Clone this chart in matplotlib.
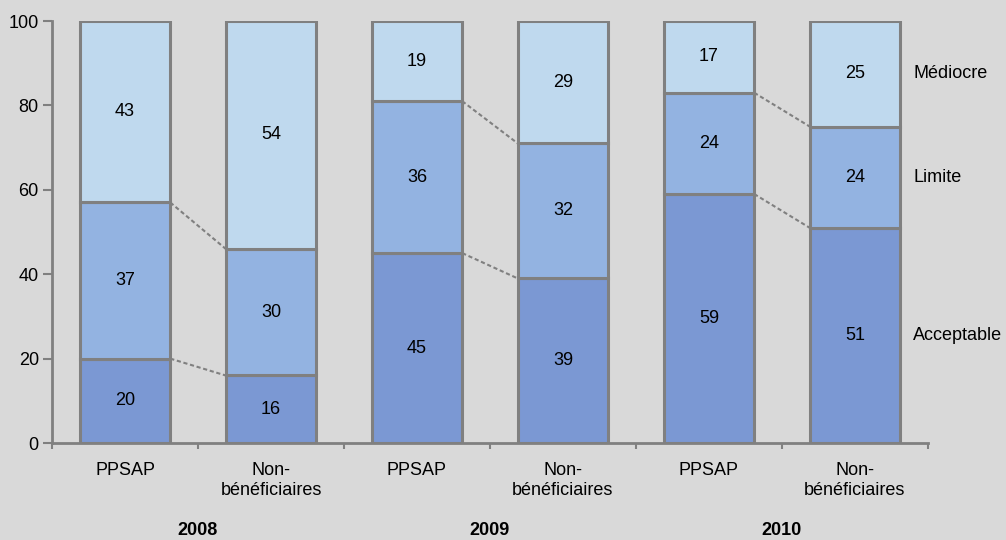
import numpy as np
import matplotlib.pyplot as plt

plt.rcParams['font.family'] = ['Liberation Sans', 'DejaVu Sans']

# Share of schools by level, PPSAP vs non-beneficiaries, per year
years = ['2008', '2009', '2010']
groups = ['PPSAP', 'Non-\nbénéficiaires']
acceptable = [20, 16, 45, 39, 59, 51]
limite = [37, 30, 36, 32, 24, 24]
mediocre = [43, 54, 19, 29, 17, 25]
levels = ['Acceptable', 'Limite', 'Médiocre']

colors = ['#7b98d3', '#93b3e1', '#bfd9ee']
edge = '#808080'
bg = '#d9d9d9'
fs = 13

fig = plt.figure(figsize=(10.06, 5.40), dpi=100, facecolor=bg)
ax = fig.add_axes([0.0517, 0.1796, 0.8707, 0.7815], facecolor=bg)

x = np.arange(len(acceptable))
labels = groups * len(years)
width = 0.62

series = [acceptable, limite, mediocre]
bottom = np.zeros(len(x))
for vals, col in zip(series, colors):
    ax.bar(x, vals, width, bottom=bottom, color=col, edgecolor=edge,
           linewidth=2.2, zorder=2)
    for xi, b, v in zip(x, bottom, vals):
        ax.text(xi, b + v / 2, str(v), ha='center', va='center',
                fontsize=fs, color='black', zorder=3)
    bottom = bottom + np.array(vals)

# dashed connectors between the two bars of each year
cum1 = np.array(acceptable)
cum2 = cum1 + np.array(limite)
for i in range(0, len(x), 2):
    for cum in (cum1, cum2):
        ax.plot([x[i] + width / 2, x[i + 1] - width / 2],
                [cum[i], cum[i + 1]], color=edge, linestyle=(0, (2, 1.3)),
                linewidth=1.5, zorder=1)

# level names to the right of the last bar
last = len(x) - 1
mids = [acceptable[last] / 2,
        acceptable[last] + limite[last] / 2,
        acceptable[last] + limite[last] + mediocre[last] / 2]
for name, m in zip(levels, mids):
    ax.text(x[last] + 0.40, m, name, ha='left', va='center', fontsize=fs,
            clip_on=False)

# year labels under each pair
for k, yr in enumerate(years):
    ax.text(2 * k + 0.5, -20.8, yr, ha='center', va='center', fontsize=fs,
            fontweight='bold', clip_on=False)

ax.set_xlim(-0.5, len(x) - 0.5)
ax.set_ylim(0, 100)
ax.set_yticks(range(0, 101, 20))
ax.set_xticks(x)
ax.set_xticklabels(labels, fontsize=fs, linespacing=1.2)
ax.set_xticks(np.arange(-0.5, len(x), 1), minor=True)
ax.tick_params(axis='x', which='major', length=0, pad=14)
ax.tick_params(axis='x', which='minor', length=4.5, width=1.5, color=edge)
ax.tick_params(axis='y', length=6.5, width=1.5, color=edge, labelsize=fs, pad=3)

for s in ['top', 'right']:
    ax.spines[s].set_visible(False)
for s in ['left', 'bottom']:
    ax.spines[s].set_color(edge)
    ax.spines[s].set_linewidth(2)

fig.savefig('out.png', dpi=100, facecolor=bg)
